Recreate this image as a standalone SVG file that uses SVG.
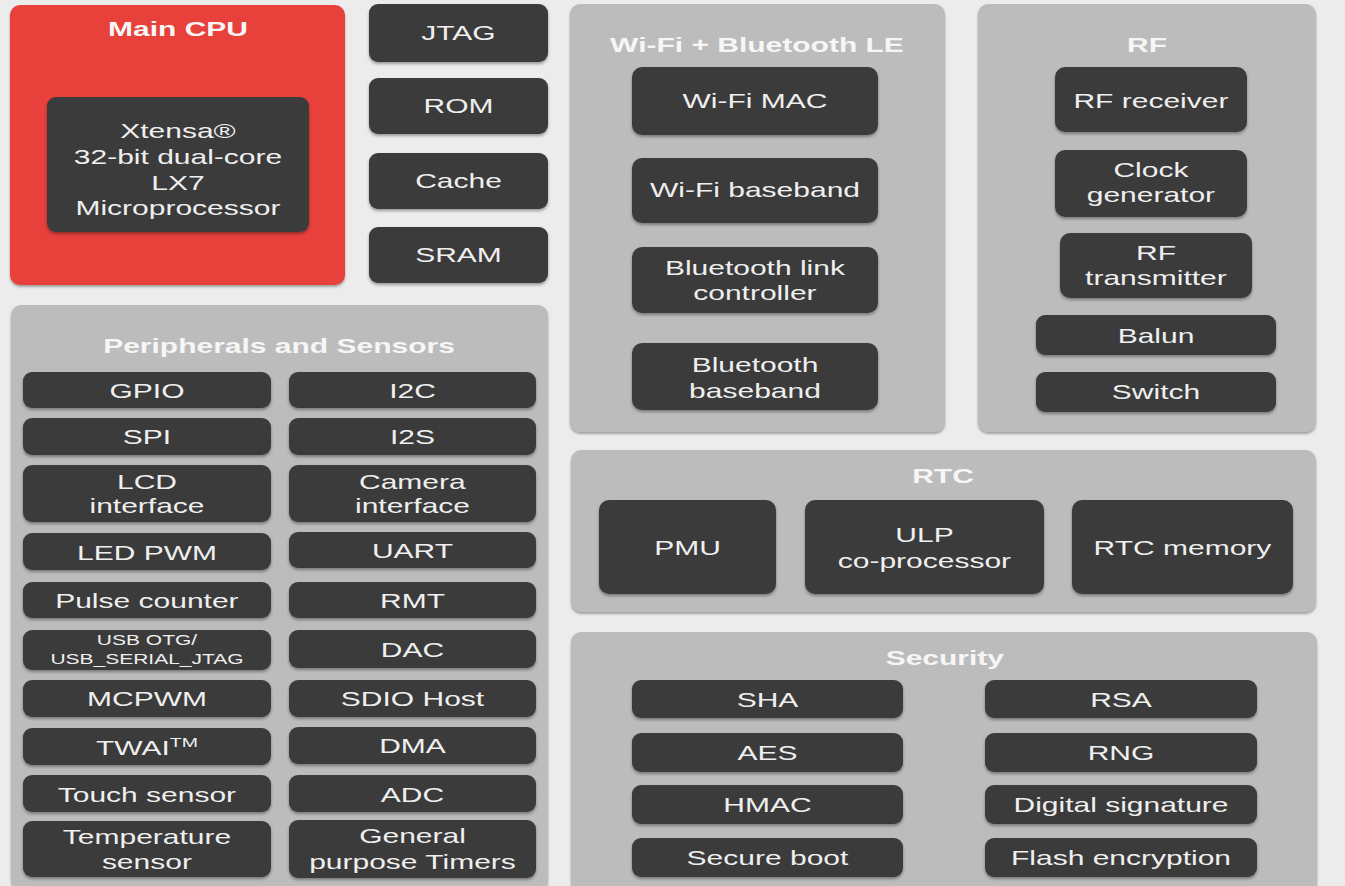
<svg xmlns="http://www.w3.org/2000/svg" width="1345" height="886" viewBox="0 0 1345 886">
<defs>
<filter id="sh" x="-5%" y="-10%" width="110%" height="130%"><feDropShadow dx="0" dy="2" stdDeviation="1.5" flood-color="#000" flood-opacity="0.35"/></filter>
<filter id="psh" x="-5%" y="-5%" width="110%" height="110%"><feDropShadow dx="0" dy="2" stdDeviation="1.2" flood-color="#555" flood-opacity="0.5"/></filter>
</defs>
<style>
.panel{fill:#bcbcbc;filter:url(#psh)}
.cpu{fill:#e8403b;filter:url(#psh)}
.box{fill:#3b3b3b;filter:url(#sh)}
text{font-family:"Liberation Sans",Arial,sans-serif;fill:#efefef;text-anchor:middle;font-size:20px;transform-box:fill-box;transform-origin:center;transform:scaleX(1.5)}
.ttl{font-weight:bold;fill:#f6f6f6}
.sm{font-size:14px}
</style>
<rect x="0" y="0" width="1345" height="886" fill="#ececec"/>
<g id="connectors"></g>

<g id="main-cpu">
<rect class="cpu" x="10" y="5" width="335" height="280" rx="10"/>
<text class="ttl" x="178" y="36">Main CPU</text>
</g>
<g id="xtensa">
<rect class="box" x="47" y="97" width="262" height="135" rx="9"/>
<text x="178" y="138">Xtensa®</text>
<text x="178" y="164">32-bit dual-core</text>
<text x="178" y="190">LX7</text>
<text x="178" y="215">Microprocessor</text>
</g>
<g id="jtag"><rect class="box" x="369" y="4" width="179" height="58" rx="9"/><text x="458.5" y="40">JTAG</text></g>
<g id="rom"><rect class="box" x="369" y="78" width="179" height="56" rx="9"/><text x="458.5" y="113">ROM</text></g>
<g id="cache"><rect class="box" x="369" y="153" width="179" height="56" rx="9"/><text x="458.5" y="188">Cache</text></g>
<g id="sram"><rect class="box" x="369" y="227" width="179" height="56" rx="9"/><text x="458.5" y="262">SRAM</text></g>

<g id="wifi-bt">
<rect class="panel" x="570" y="4" width="375" height="428" rx="10"/>
<text class="ttl" x="757" y="52">Wi-Fi + Bluetooth LE</text>
</g>
<g id="wifi-mac"><rect class="box" x="632" y="67" width="246" height="68" rx="10"/><text x="755" y="108">Wi-Fi MAC</text></g>
<g id="wifi-baseband"><rect class="box" x="632" y="158" width="246" height="65" rx="10"/><text x="755" y="197">Wi-Fi baseband</text></g>
<g id="bt-link"><rect class="box" x="632" y="247" width="246" height="66" rx="10"/><text x="755" y="275">Bluetooth link</text><text x="755" y="300">controller</text></g>
<g id="bt-baseband"><rect class="box" x="632" y="343" width="246" height="67" rx="10"/><text x="755" y="372">Bluetooth</text><text x="755" y="398">baseband</text></g>

<g id="rf">
<rect class="panel" x="978" y="4" width="338" height="428" rx="10"/>
<text class="ttl" x="1147" y="52">RF</text>
</g>
<g id="rf-receiver"><rect class="box" x="1055" y="67" width="192" height="65" rx="10"/><text x="1151" y="108">RF receiver</text></g>
<g id="clock-gen"><rect class="box" x="1055" y="150" width="192" height="67" rx="10"/><text x="1151" y="177">Clock</text><text x="1151" y="202">generator</text></g>
<g id="rf-transmitter"><rect class="box" x="1060" y="233" width="192" height="65" rx="10"/><text x="1156" y="260">RF</text><text x="1156" y="285">transmitter</text></g>
<g id="balun"><rect class="box" x="1036" y="315" width="240" height="40" rx="9"/><text x="1156" y="343">Balun</text></g>
<g id="switch"><rect class="box" x="1036" y="372" width="240" height="40" rx="9"/><text x="1156" y="399">Switch</text></g>

<g id="peripherals">
<rect class="panel" x="11" y="305" width="537" height="585" rx="10"/>
<text class="ttl" x="279" y="353">Peripherals and Sensors</text>
</g>
<g id="gpio"><rect class="box" x="23" y="372" width="248" height="36" rx="9"/><text x="147" y="398">GPIO</text></g>
<g id="i2c"><rect class="box" x="289" y="372" width="247" height="36" rx="9"/><text x="412.5" y="398">I2C</text></g>
<g id="spi"><rect class="box" x="23" y="418" width="248" height="37" rx="9"/><text x="147" y="444">SPI</text></g>
<g id="i2s"><rect class="box" x="289" y="418" width="247" height="37" rx="9"/><text x="412.5" y="444">I2S</text></g>
<g id="lcd"><rect class="box" x="23" y="465" width="248" height="57" rx="9"/><text x="147" y="489">LCD</text><text x="147" y="513">interface</text></g>
<g id="camera"><rect class="box" x="289" y="465" width="247" height="57" rx="9"/><text x="412.5" y="489">Camera</text><text x="412.5" y="513">interface</text></g>
<g id="led-pwm"><rect class="box" x="23" y="533" width="248" height="37" rx="9"/><text x="147" y="560">LED PWM</text></g>
<g id="uart"><rect class="box" x="289" y="532" width="247" height="36" rx="9"/><text x="412.5" y="558">UART</text></g>
<g id="pulse-counter"><rect class="box" x="23" y="582" width="248" height="36" rx="9"/><text x="147" y="608">Pulse counter</text></g>
<g id="rmt"><rect class="box" x="289" y="582" width="247" height="36" rx="9"/><text x="412.5" y="608">RMT</text></g>
<g id="usb"><rect class="box" x="23" y="630" width="248" height="40" rx="9"/><text class="sm" x="147" y="645">USB OTG/</text><text class="sm" x="147" y="664">USB_SERIAL_JTAG</text></g>
<g id="dac"><rect class="box" x="289" y="630" width="247" height="38" rx="9"/><text x="412.5" y="657">DAC</text></g>
<g id="mcpwm"><rect class="box" x="23" y="680" width="248" height="37" rx="9"/><text x="147" y="706">MCPWM</text></g>
<g id="sdio"><rect class="box" x="289" y="680" width="247" height="37" rx="9"/><text x="412.5" y="706">SDIO Host</text></g>
<g id="twai"><rect class="box" x="23" y="728" width="248" height="37" rx="9"/><text x="147" y="755">TWAI<tspan font-size="13" dy="-8">TM</tspan></text></g>
<g id="dma"><rect class="box" x="289" y="727" width="247" height="37" rx="9"/><text x="412.5" y="753">DMA</text></g>
<g id="touch"><rect class="box" x="23" y="775" width="248" height="37" rx="9"/><text x="147" y="802">Touch sensor</text></g>
<g id="adc"><rect class="box" x="289" y="775" width="247" height="37" rx="9"/><text x="412.5" y="802">ADC</text></g>
<g id="temp"><rect class="box" x="23" y="821" width="248" height="56" rx="9"/><text x="147" y="844">Temperature</text><text x="147" y="869">sensor</text></g>
<g id="timers"><rect class="box" x="289" y="820" width="247" height="58" rx="9"/><text x="412.5" y="843">General</text><text x="412.5" y="869">purpose Timers</text></g>

<g id="rtc">
<rect class="panel" x="571" y="450" width="745" height="162" rx="10"/>
<text class="ttl" x="943" y="483">RTC</text>
</g>
<g id="pmu"><rect class="box" x="599" y="500" width="177" height="94" rx="10"/><text x="687.5" y="555">PMU</text></g>
<g id="ulp"><rect class="box" x="805" y="500" width="239" height="94" rx="10"/><text x="924.5" y="542">ULP</text><text x="924.5" y="568">co-processor</text></g>
<g id="rtc-memory"><rect class="box" x="1072" y="500" width="221" height="94" rx="10"/><text x="1182.5" y="555">RTC memory</text></g>

<g id="security">
<rect class="panel" x="571" y="632" width="746" height="264" rx="10"/>
<text class="ttl" x="945" y="665">Security</text>
</g>
<g id="sha"><rect class="box" x="632" y="680" width="271" height="38" rx="9"/><text x="767.5" y="707">SHA</text></g>
<g id="rsa"><rect class="box" x="985" y="680" width="272" height="38" rx="9"/><text x="1121" y="707">RSA</text></g>
<g id="aes"><rect class="box" x="632" y="733" width="271" height="39" rx="9"/><text x="767.5" y="760">AES</text></g>
<g id="rng"><rect class="box" x="985" y="733" width="272" height="39" rx="9"/><text x="1121" y="760">RNG</text></g>
<g id="hmac"><rect class="box" x="632" y="785" width="271" height="39" rx="9"/><text x="767.5" y="812">HMAC</text></g>
<g id="digital-signature"><rect class="box" x="985" y="785" width="272" height="39" rx="9"/><text x="1121" y="812">Digital signature</text></g>
<g id="secure-boot"><rect class="box" x="632" y="838" width="271" height="39" rx="9"/><text x="767.5" y="865">Secure boot</text></g>
<g id="flash-encryption"><rect class="box" x="985" y="838" width="272" height="39" rx="9"/><text x="1121" y="865">Flash encryption</text></g>
</svg>
